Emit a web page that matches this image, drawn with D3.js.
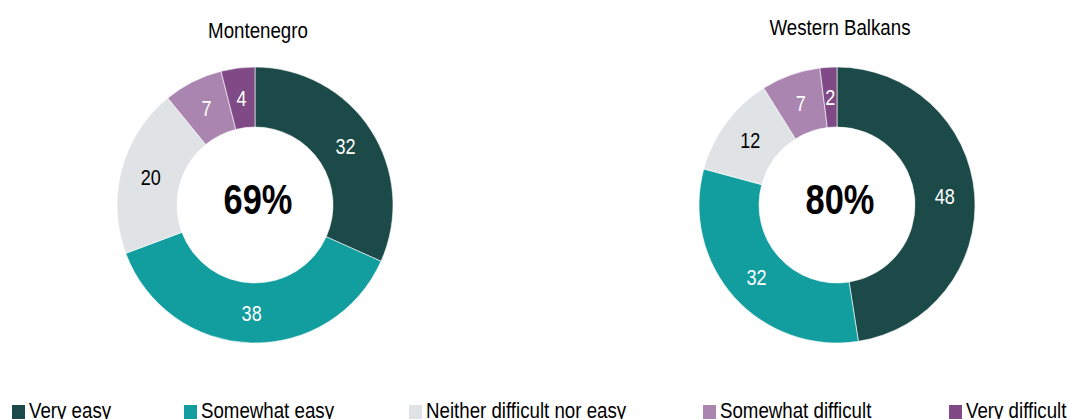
<!DOCTYPE html>
<html>
<head>
<meta charset="utf-8">
<script src="https://cdn.jsdelivr.net/npm/d3@7"></script>
<style>
  html, body { margin: 0; padding: 0; background: #fff; }
  svg { display: block; font-family: "Liberation Sans", Arial, sans-serif; }
</style>
</head>
<body>
<svg id="chart" width="1067" height="419"></svg>
<script>
// Response categories, in drawing order (clockwise from 12 o'clock)
const categories = ["Very easy", "Somewhat easy", "Neither difficult nor easy", "Somewhat difficult", "Very difficult"];
const colors = ["#1b4a48", "#129d9f", "#e0e3e6", "#aa85b0", "#7f4a86"];

// Share of respondents (%) per region
const montenegro = [32, 38, 20, 7, 4];
const westernBalkans = [48, 32, 12, 7, 2];

// Headline figure in the middle of each donut (very + somewhat easy)
const regionTitles = ["Montenegro", "Western Balkans"];
const regionTotals = ["69%", "80%"];

const panels = [
  { title: regionTitles[0], values: montenegro, total: regionTotals[0], cx: 255, titleY: 38 },
  { title: regionTitles[1], values: westernBalkans, total: regionTotals[1], cx: 837, titleY: 35 }
];

const svg = d3.select("#chart");
const cy = 205, outerR = 138, innerR = 78;

// Condensed lettering: Liberation Sans squeezed horizontally
function narrowText(parent, x, y, sx, str) {
  return parent.append("g")
    .attr("transform", `translate(${x},${y}) scale(${sx},1)`)
    .append("text")
    .text(str);
}

const color = d3.scaleOrdinal().domain(categories).range(colors);
const pie = d3.pie().sort(null).value(d => d.value);
const arc = d3.arc().innerRadius(innerR).outerRadius(outerR);

panels.forEach(p => {
  const g = svg.append("g").attr("transform", `translate(${p.cx},${cy})`);
  const data = pie(p.values.map((v, i) => ({ cat: categories[i], value: v })));

  g.selectAll("path.slice").data(data).join("path")
    .attr("class", "slice")
    .attr("d", arc)
    .attr("fill", d => color(d.data.cat))
    .attr("stroke", "#fff")
    .attr("stroke-width", 0.6);

  data.forEach(d => {
    const [x, y] = arc.centroid(d);
    narrowText(g, x, y, 0.84, d.data.value)
      .attr("text-anchor", "middle")
      .attr("dy", "0.36em")
      .attr("font-size", 21.5)
      .attr("fill", d.data.cat === "Neither difficult nor easy" ? "#000" : "#fff");
  });

  narrowText(g, 3, 9, 0.82, p.total)
    .attr("text-anchor", "middle")
    .attr("font-size", 42)
    .attr("font-weight", "bold")
    .attr("fill", "#000");

  narrowText(svg, p.cx + 3, p.titleY, 0.87, p.title)
    .attr("text-anchor", "middle")
    .attr("font-size", 21.5)
    .attr("fill", "#000");
});

// Legend along the bottom edge
const legendX = [12, 184, 409, 703, 949];
categories.forEach((c, i) => {
  const item = svg.append("g").attr("transform", `translate(${legendX[i]},0)`);
  item.append("rect")
    .attr("x", 0).attr("y", 405)
    .attr("width", 13).attr("height", 14)
    .attr("fill", color(c));
  narrowText(item, 17, 418, 0.85, c)
    .attr("font-size", 22)
    .attr("fill", "#000");
});
</script>
</body>
</html>
